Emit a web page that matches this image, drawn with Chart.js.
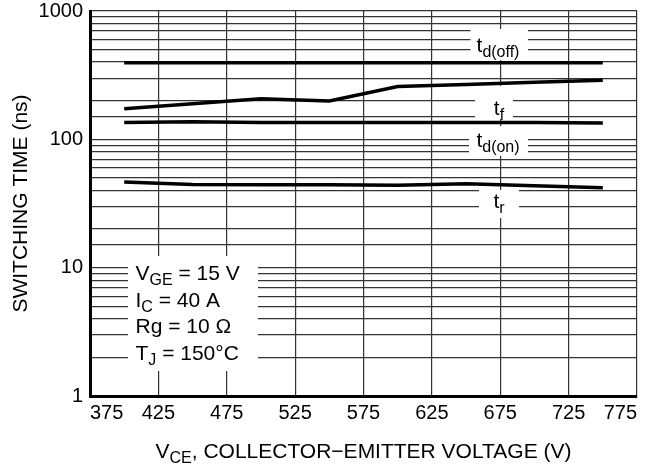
<!DOCTYPE html>
<html>
<head>
<meta charset="utf-8">
<script src="https://cdn.jsdelivr.net/npm/chart.js@4.4.1/dist/chart.umd.min.js"></script>
<style>
  html, body { margin: 0; padding: 0; background: #fff; }
  #wrap { width: 658px; height: 467px; }
</style>
</head>
<body>
<div id="wrap"><canvas id="chart"></canvas></div>
<script>
// switching time vs collector-emitter voltage
const vce   = [400, 450, 500, 550, 600, 650, 700, 750];
const tdOff = [395, 395, 395, 395, 395, 395, 395, 395];
const tFall = [173, 189, 207, 199, 258, 268, 278, 289];
const tdOn  = [135, 137, 135, 135, 135, 135, 135, 134];
const tRise = [46.5, 44.5, 44.3, 44.2, 43.8, 45, 43.5, 42];

const xTicks  = [375, 425, 475, 525, 575, 625, 675, 725, 775];
const yLabels = [1, 10, 100, 1000];

const FONT = '"Liberation Sans", Arial, Helvetica, sans-serif';
const GRID = '#333';

const pts = ys => vce.map((v, i) => ({ x: v, y: ys[i] }));
const curve = (label, ys) => ({
  label, data: pts(ys),
  borderColor: '#000', borderWidth: 3.5, pointRadius: 0,
  tension: 0, borderCapStyle: 'butt', fill: false,
});

/* ── text with subscripts ───────────────────────────────── */
function partFont(sub) { return (sub ? 16 : 21) + 'px ' + FONT; }

function richWidth(ctx, parts) {
  return parts.reduce((w, [t, sub]) => { ctx.font = partFont(sub); return w + ctx.measureText(t).width; }, 0);
}

function drawRich(ctx, parts, x, base, center) {
  if (center) x -= richWidth(ctx, parts) / 2;
  ctx.textAlign = 'left';
  ctx.textBaseline = 'alphabetic';
  parts.forEach(([t, sub]) => {
    ctx.font = partFont(sub);
    ctx.fillText(t, x, sub ? base + 5 : base);
    x += ctx.measureText(t).width;
  });
}

const curveLabels = [
  { parts: [['t'], ['d(off)', 1]], cx: 498, base: 51.7,  box: [470.5, 29, 528, 60] },
  { parts: [['t'], ['f', 1]],      cx: 499, base: 115,   box: [475, 86, 513, 119] },
  { parts: [['t'], ['d(on)', 1]],  cx: 498, base: 146.7, box: [469, 126, 528, 156] },
  { parts: [['t'], ['r', 1]],      cx: 499, base: 208,   box: [479, 190, 519, 218] },
];

const conditions = [
  [['V'], ['GE', 1], [' = 15 V']],
  [['I'], ['C', 1], [' = 40 A']],
  [['Rg = 10 \u03A9']],
  [['T'], ['J', 1], [' = 150\u00B0C']],
];

const annotate = {
  id: 'annotate',
  beforeDatasetsDraw(chart) {
    const ctx = chart.ctx;
    ctx.save();
    ctx.fillStyle = '#fff';
    // knock the grid out behind the labels
    ctx.fillRect(128, 256, 130, 115);
    curveLabels.forEach(l => {
      const [x0, y0, x1, y1] = l.box;
      ctx.fillRect(x0, y0, x1 - x0, y1 - y0);
    });
    ctx.fillStyle = '#000';
    curveLabels.forEach(l => drawRich(ctx, l.parts, l.cx, l.base, true));
    const bases = [280, 306.5, 333, 359.5];
    conditions.forEach((parts, i) => drawRich(ctx, parts, 135.5, bases[i], false));
    ctx.restore();
  },
  afterDraw(chart) {
    const ctx = chart.ctx, ca = chart.chartArea;
    ctx.save();
    ctx.fillStyle = '#000';
    // x title
    drawRich(ctx, [['V'], ['CE', 1], [', COLLECTOR\u2212EMITTER VOLTAGE (V)']],
      (ca.left + ca.right) / 2, 458, true);
    // y title
    ctx.translate(27, (ca.top + ca.bottom) / 2);
    ctx.rotate(-Math.PI / 2);
    ctx.font = '21px ' + FONT;
    ctx.textAlign = 'center';
    ctx.textBaseline = 'alphabetic';
    ctx.fillText('SWITCHING TIME (ns)', 0, 0);
    ctx.restore();
  },
};

new Chart(document.getElementById('chart'), {
  type: 'line',
  data: {
    datasets: [
      curve('td(off)', tdOff),
      curve('tf', tFall),
      curve('td(on)', tdOn),
      curve('tr', tRise),
    ],
  },
  options: {
    responsive: true,
    maintainAspectRatio: false,
    animation: false,
    layout: { padding: { top: 11, right: 21, left: 0, bottom: 0 } },
    plugins: { legend: { display: false }, tooltip: { enabled: false } },
    scales: {
      x: {
        type: 'linear', min: 375, max: 775,
        afterBuildTicks: s => { s.ticks = xTicks.map(v => ({ value: v })); },
        afterFit: s => { s.height = 71; s.paddingLeft = 0; s.paddingRight = 0; },
        ticks: { color: '#000', font: { family: FONT, size: 20 }, padding: 5, align: 'inner', autoSkip: false, maxRotation: 0 },
        grid: { color: GRID, lineWidth: 1.2, drawTicks: false },
        border: { color: '#000', width: 3 },
      },
      y: {
        type: 'logarithmic', min: 1, max: 1000,
        afterFit: s => { s.width = 90; s.paddingTop = 0; s.paddingBottom = 0; },
        ticks: {
          color: '#000', font: { family: FONT, size: 20 }, padding: 7, autoSkip: false,
          callback: v => yLabels.includes(v) ? String(v) : '',
        },
        grid: { color: GRID, lineWidth: 1.2, drawTicks: false },
        border: { color: '#000', width: 3 },
      },
    },
  },
  plugins: [annotate],
});
</script>
</body>
</html>
